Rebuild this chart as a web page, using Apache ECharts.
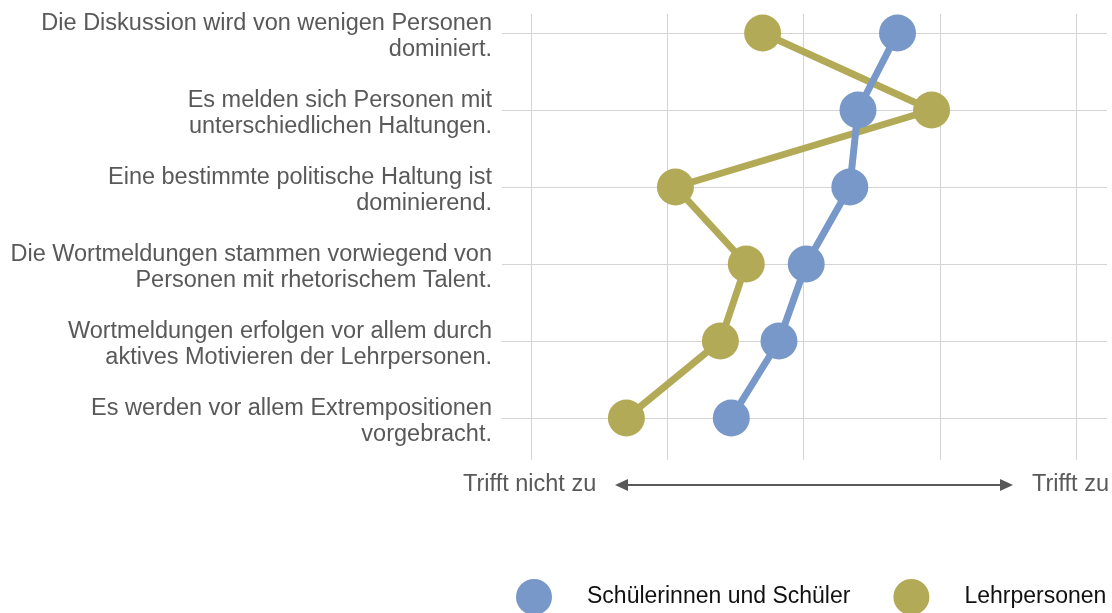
<!DOCTYPE html>
<html>
<head>
<meta charset="utf-8">
<script src="https://cdn.jsdelivr.net/npm/echarts@6/dist/echarts.min.js"></script>
<style>
  html, body { margin: 0; padding: 0; background: #fff; }
  #chart { width: 1112px; height: 613px; }
</style>
</head>
<body>
<div id="chart"></div>
<script>
// Aussagen (von oben nach unten)
var statements = [
  'Die Diskussion wird von wenigen Personen\ndominiert.',
  'Es melden sich Personen mit\nunterschiedlichen Haltungen.',
  'Eine bestimmte politische Haltung ist\ndominierend.',
  'Die Wortmeldungen stammen vorwiegend von\nPersonen mit rhetorischem Talent.',
  'Wortmeldungen erfolgen vor allem durch\naktives Motivieren der Lehrpersonen.',
  'Es werden vor allem Extrempositionen\nvorgebracht.'
];
// Mittelwerte auf der Skala 1 (trifft nicht zu) bis 5 (trifft zu)
var schueler = [3.69, 3.40, 3.34, 3.02, 2.82, 2.47];
var lehrpersonen = [2.70, 3.94, 2.06, 2.58, 2.39, 1.70];
var scaleTicks = [1, 2, 3, 4, 5];

var seriesNames = ['Schülerinnen und Schüler', 'Lehrpersonen'];
var blue = '#7898c9';
var olive = '#b3aa58';
var gray = '#595959';
var font = '"Liberation Sans", Arial, Helvetica, sans-serif';

function pairs(values) {
  return values.map(function (v, i) { return [v, statements[i]]; });
}

var myChart = echarts.init(document.getElementById('chart'));

var option = {
  animation: false,
  grid: [
    // Punkte, Linien, Beschriftung und horizontale Gitterlinien
    { left: 502, right: 5, top: 33, bottom: 195 },
    // nur die senkrechten Gitterlinien
    { left: 531, right: 36, top: 14, bottom: 153 }
  ],
  xAxis: [
    {
      gridIndex: 0,
      type: 'value',
      min: 1 - 29 / 136.25,
      max: 5 + 31 / 136.25,
      show: false
    },
    {
      gridIndex: 1,
      type: 'value',
      min: scaleTicks[0],
      max: scaleTicks[scaleTicks.length - 1],
      interval: 1,
      axisLine: { show: false },
      axisTick: { show: false },
      axisLabel: { show: false },
      splitLine: { lineStyle: { color: '#d4d4d4', width: 1 } }
    }
  ],
  yAxis: [
    {
      gridIndex: 0,
      type: 'category',
      inverse: true,
      boundaryGap: false,
      data: statements,
      axisLine: { show: false },
      axisTick: { show: false },
      axisLabel: {
        margin: 10,
        align: 'right',
        // kleine Leerzeile oben, damit der Text etwas tiefer sitzt
        formatter: function (v) {
          return '{s|}\n' + v.split('\n').map(function (l) { return '{t|' + l + '}'; }).join('\n');
        },
        rich: {
          s: { lineHeight: 8, fontSize: 1 },
          t: { color: gray, fontFamily: font, fontSize: 23.5, lineHeight: 26, align: 'right' }
        }
      },
      splitLine: { show: true, lineStyle: { color: '#d4d4d4', width: 1 } }
    },
    {
      gridIndex: 1,
      type: 'value',
      show: false,
      min: 0,
      max: 1
    }
  ],
  legend: {
    data: seriesNames,
    orient: 'horizontal',
    bottom: -7,
    left: 511,
    width: 640,
    icon: 'circle',
    itemWidth: 36,
    itemHeight: 36,
    itemGap: 43,
    textStyle: {
      color: '#111',
      fontFamily: font,
      fontSize: 23,
      padding: [0, 0, 0, 30]
    }
  },
  graphic: [
    {
      type: 'text',
      left: 463,
      top: 473,
      style: { text: 'Trifft nicht zu', fill: gray, font: '23.5px ' + font }
    },
    {
      type: 'text',
      right: 3,
      top: 473,
      style: { text: 'Trifft zu', fill: gray, font: '23.5px ' + font }
    },
    {
      type: 'line',
      shape: { x1: 624, y1: 485, x2: 1004, y2: 485 },
      style: { stroke: gray, lineWidth: 2 }
    },
    {
      type: 'polygon',
      shape: { points: [[615, 485], [628, 479], [628, 491]] },
      style: { fill: gray }
    },
    {
      type: 'polygon',
      shape: { points: [[1013, 485], [1000, 479], [1000, 491]] },
      style: { fill: gray }
    }
  ],
  series: [
    {
      name: 'Lehrpersonen',
      type: 'line',
      xAxisIndex: 0,
      yAxisIndex: 0,
      data: pairs(lehrpersonen),
      symbol: 'circle',
      symbolSize: 37,
      color: olive,
      lineStyle: { color: olive, width: 7 },
      itemStyle: { color: olive }
    },
    {
      name: 'Schülerinnen und Schüler',
      type: 'line',
      xAxisIndex: 0,
      yAxisIndex: 0,
      data: pairs(schueler),
      symbol: 'circle',
      symbolSize: 37,
      color: blue,
      lineStyle: { color: blue, width: 7 },
      itemStyle: { color: blue }
    }
  ]
};

myChart.setOption(option);
</script>
</body>
</html>
